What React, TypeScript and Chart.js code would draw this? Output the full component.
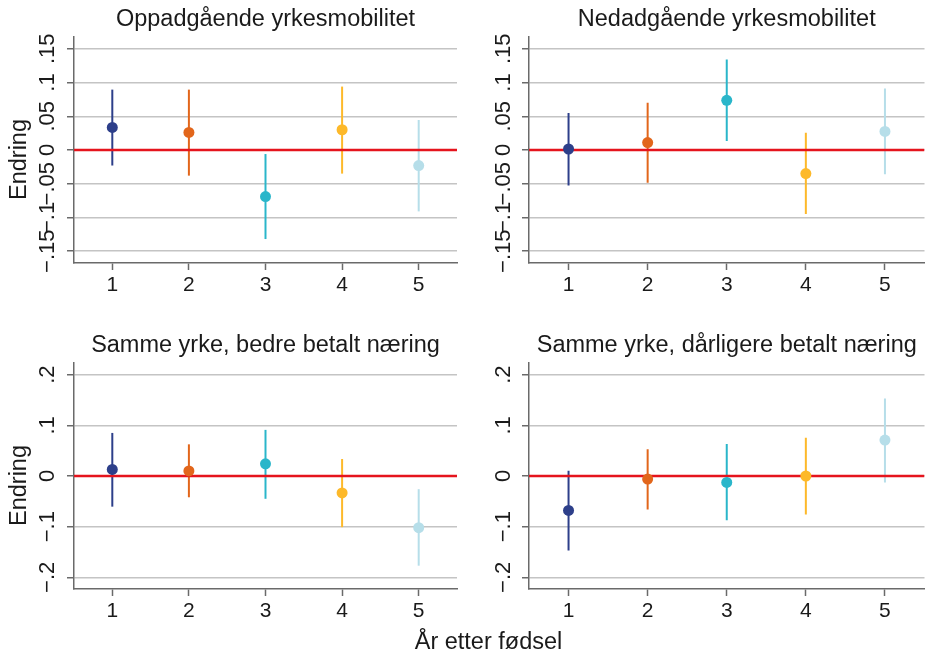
import React, { useEffect, useRef } from "react";
import { Chart, registerables } from "chart.js";

Chart.register(...registerables);

// ---------- data ----------
const YEARS = [1, 2, 3, 4, 5];
const X_RANGE = [0.5, 5.5];
const REF_VALUE = 0;
const COLORS = ["#2d3f8a", "#e2661b", "#2ab6ca", "#fdb92a", "#b6dee9"];

const TITLES = [
  "Oppadgående yrkesmobilitet",
  "Nedadgående yrkesmobilitet",
  "Samme yrke, bedre betalt næring",
  "Samme yrke, dårligere betalt næring",
];
const Y_TITLE = "Endring";
const X_TITLE = "År etter fødsel";

const UP_EST = [0.0335, 0.026, -0.069, 0.030, -0.023];
const UP_LO = [-0.023, -0.038, -0.132, -0.035, -0.091];
const UP_HI = [0.0895, 0.0895, -0.006, 0.094, 0.0445];

const DOWN_EST = [0.0015, 0.011, 0.0736, -0.035, 0.0276];
const DOWN_LO = [-0.0525, -0.0485, 0.0134, -0.095, -0.036];
const DOWN_HI = [0.055, 0.070, 0.134, 0.0257, 0.091];

const BETTER_EST = [0.013, 0.010, 0.024, -0.0335, -0.102];
const BETTER_LO = [-0.0605, -0.042, -0.045, -0.101, -0.177];
const BETTER_HI = [0.085, 0.0625, 0.091, 0.0335, -0.026];

const WORSE_EST = [-0.068, -0.006, -0.0126, 0.0, 0.071];
const WORSE_LO = [-0.147, -0.066, -0.0875, -0.076, -0.0126];
const WORSE_HI = [0.0105, 0.053, 0.063, 0.0755, 0.153];

const TOP_Y_TICKS = [-0.15, -0.1, -0.05, 0, 0.05, 0.1, 0.15];
const TOP_Y_LABELS = ["\u2212.15", "\u2212.1", "\u2212.05", "0", ".05", ".1", ".15"];
const TOP_Y_RANGE = [-0.1675, 0.1675];

const BOT_Y_TICKS = [-0.2, -0.1, 0, 0.1, 0.2];
const BOT_Y_LABELS = ["\u2212.2", "\u2212.1", "0", ".1", ".2"];
const BOT_Y_RANGE = [-0.223, 0.223];

// ---------- styles ----------
const FONT = '"Liberation Sans", Arial, Helvetica, sans-serif';
const TEXT = "#1a1a1a";
const AXIS = "#6a6a6a";
const GRID = "#c4c4c4";
const RED = "#e5141d";

type PanelProps = {
  title: string;
  est: number[];
  lo: number[];
  hi: number[];
  yTicks: number[];
  yLabels: string[];
  yRange: number[];
  showYTitle: boolean;
  left: number;
  top: number;
  width: number;
  height: number;
  yAxisWidth: number;
  padRight: number;
  labelOffset: number;
};

function Panel(p: PanelProps) {
  const ref = useRef<HTMLCanvasElement | null>(null);

  useEffect(() => {
    if (!ref.current) return;
    const yLabelPlugin = {
      id: "yLabelsRot",
      afterDraw(chart: any) {
        const { ctx, chartArea } = chart;
        const s = chart.scales.y;
        ctx.save();
        ctx.fillStyle = TEXT;
        ctx.font = `22px ${FONT}`;
        ctx.textAlign = "center";
        ctx.textBaseline = "middle";
        s.ticks.forEach((t: any, i: number) => {
          const py = s.getPixelForValue(t.value);
          ctx.save();
          ctx.translate(chartArea.left - p.labelOffset, py);
          ctx.rotate(-Math.PI / 2);
          ctx.fillText(p.yLabels[i], 0, 0);
          ctx.restore();
        });
        if (p.showYTitle) {
          ctx.font = `23.5px ${FONT}`;
          ctx.save();
          ctx.translate(19.5, (chartArea.top + chartArea.bottom) / 2 + 9.5);
          ctx.rotate(-Math.PI / 2);
          ctx.fillText(Y_TITLE, 0, 0);
          ctx.restore();
        }
        ctx.restore();
      },
    };

    const datasets: any[] = [
      {
        data: p.est.map((y, i) => ({ x: YEARS[i], y })),
        showLine: false,
        pointRadius: 5.5,
        pointHoverRadius: 5.5,
        pointBackgroundColor: COLORS,
        pointBorderWidth: 0,
        pointBorderColor: COLORS,
      },
      {
        data: [
          { x: X_RANGE[0], y: REF_VALUE },
          { x: X_RANGE[1], y: REF_VALUE },
        ],
        showLine: true,
        borderColor: RED,
        borderWidth: 2.4,
        pointRadius: 0,
      },
      ...YEARS.map((x, i) => ({
        data: [
          { x, y: p.lo[i] },
          { x, y: p.hi[i] },
        ],
        showLine: true,
        borderColor: COLORS[i],
        borderWidth: 2,
        pointRadius: 0,
      })),
    ];

    const chart = new Chart(ref.current, {
      type: "scatter",
      data: { datasets },
      options: {
        animation: false,
        responsive: false,
        maintainAspectRatio: false,
        events: [],
        layout: { padding: { left: 0, right: p.padRight, top: 0, bottom: 0 } },
        plugins: {
          legend: { display: false },
          tooltip: { enabled: false },
          title: {
            display: true,
            text: p.title,
            fullSize: false,
            color: TEXT,
            font: { family: FONT, size: 23.5, weight: "normal" },
            padding: { top: 5.9, bottom: 2.9 },
          },
        },
        scales: {
          x: {
            type: "linear",
            min: X_RANGE[0],
            max: X_RANGE[1],
            afterBuildTicks: (s: any) => {
              s.ticks = YEARS.map((v) => ({ value: v }));
            },
            afterFit: (s: any) => {
              s.height = p.height - 263;
            },
            grid: {
              drawOnChartArea: false,
              drawTicks: true,
              tickLength: 7,
              tickColor: AXIS,
              tickWidth: 1.5,
            },
            border: { display: true, color: AXIS, width: 1.5 },
            ticks: {
              color: TEXT,
              font: { family: FONT, size: 21 },
              padding: 3,
              maxRotation: 0,
              autoSkip: false,
            },
          },
          y: {
            type: "linear",
            min: p.yRange[0],
            max: p.yRange[1],
            afterBuildTicks: (s: any) => {
              s.ticks = p.yTicks.map((v) => ({ value: v }));
            },
            afterFit: (s: any) => {
              s.width = p.yAxisWidth;
            },
            grid: {
              color: GRID,
              lineWidth: 1.5,
              drawTicks: true,
              tickLength: 7,
              tickColor: AXIS,
              tickWidth: 1.5,
            },
            border: { display: true, color: AXIS, width: 1.5 },
            ticks: { display: false },
          },
        },
      } as any,
      plugins: [yLabelPlugin],
    });
    return () => chart.destroy();
  }, []);

  return (
    <canvas
      ref={ref}
      width={p.width}
      height={p.height}
      style={{
        position: "absolute",
        left: p.left,
        top: p.top,
        width: p.width,
        height: p.height,
        display: "block",
      }}
    />
  );
}

export default function App() {
  const H = 326;
  return (
    <div
      style={{
        position: "fixed",
        left: 0,
        top: 0,
        width: 930,
        height: 665,
        background: "#ffffff",
        overflow: "hidden",
      }}
    >
      <Panel
        title={TITLES[0]}
        est={UP_EST}
        lo={UP_LO}
        hi={UP_HI}
        yTicks={TOP_Y_TICKS}
        yLabels={TOP_Y_LABELS}
        yRange={TOP_Y_RANGE}
        showYTitle={true}
        left={0}
        top={0}
        width={465}
        height={H}
        yAxisWidth={74}
        padRight={8}
        labelOffset={26.5}
      />
      <Panel
        title={TITLES[1]}
        est={DOWN_EST}
        lo={DOWN_LO}
        hi={DOWN_HI}
        yTicks={TOP_Y_TICKS}
        yLabels={TOP_Y_LABELS}
        yRange={TOP_Y_RANGE}
        showYTitle={false}
        left={465}
        top={0}
        width={465}
        height={H}
        yAxisWidth={64}
        padRight={0}
        labelOffset={25}
      />
      <Panel
        title={TITLES[2]}
        est={BETTER_EST}
        lo={BETTER_LO}
        hi={BETTER_HI}
        yTicks={BOT_Y_TICKS}
        yLabels={BOT_Y_LABELS}
        yRange={BOT_Y_RANGE}
        showYTitle={true}
        left={0}
        top={326}
        width={465}
        height={H}
        yAxisWidth={74}
        padRight={8}
        labelOffset={26.5}
      />
      <Panel
        title={TITLES[3]}
        est={WORSE_EST}
        lo={WORSE_LO}
        hi={WORSE_HI}
        yTicks={BOT_Y_TICKS}
        yLabels={BOT_Y_LABELS}
        yRange={BOT_Y_RANGE}
        showYTitle={false}
        left={465}
        top={326}
        width={465}
        height={H}
        yAxisWidth={64}
        padRight={0}
        labelOffset={25}
      />
      <div
        style={{
          position: "absolute",
          left: 288.5,
          width: 400,
          top: 630,
          textAlign: "center",
          fontFamily: FONT,
          fontSize: "23.5px",
          lineHeight: "23.5px",
          color: TEXT,
          whiteSpace: "nowrap",
        }}
      >
        {X_TITLE}
      </div>
    </div>
  );
}
